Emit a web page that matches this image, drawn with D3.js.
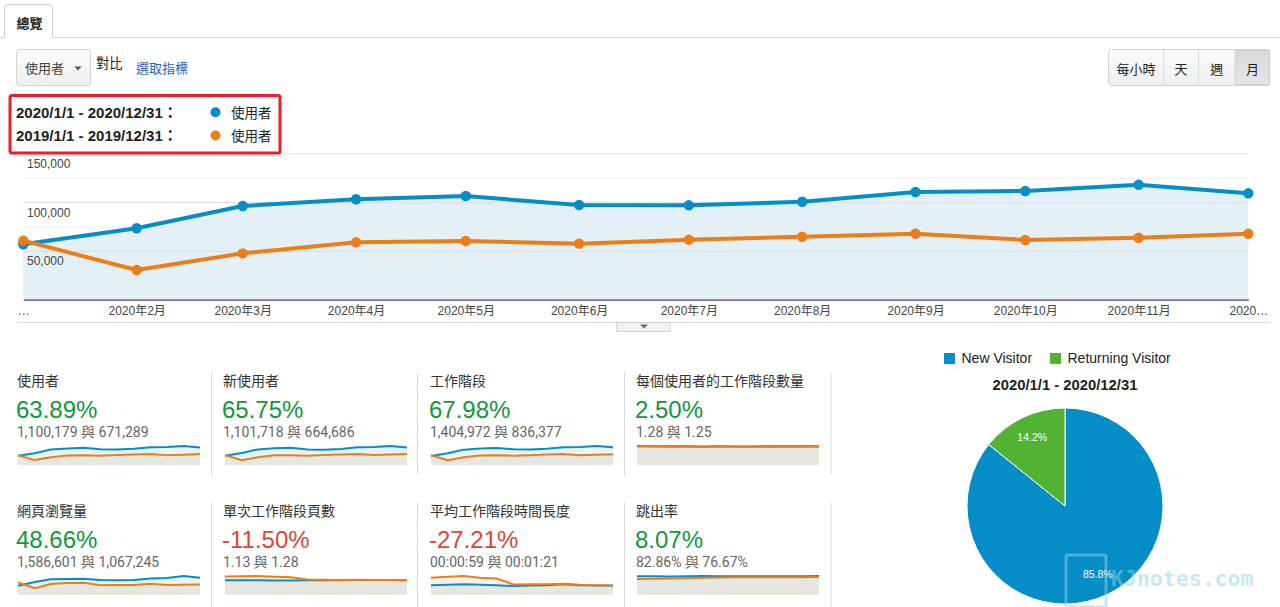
<!DOCTYPE html>
<html><head><meta charset="utf-8">
<script src="https://cdn.jsdelivr.net/npm/d3@7"></script>
<style>
html,body{margin:0;padding:0;background:#fff;}
svg{display:block;}
</style></head><body>
<svg id="c" width="1280" height="607"></svg>
<script>
// ---------- DATA ----------
const monthIndex = [0,1,2,3,4,5,6,7,8,9,10,11];
const xTickLabels = ["…","2020年2月","2020年3月","2020年4月","2020年5月","2020年6月","2020年7月","2020年8月","2020年9月","2020年10月","2020年11月","2020…"];
const yTickValues = [50000,100000,150000];
const gridValues = [25000,50000,75000,100000,125000,150000];
const legendRanges = ["2020/1/1 - 2020/12/31：","2019/1/1 - 2019/12/31："];
const legendMetric = "使用者";

const users2020 = [56800,73200,96000,102900,106200,97000,96700,100400,110300,111400,117800,109000];
const users2019 = [60500,30400,47500,58800,60100,57400,61500,64500,67600,61200,63500,67600];

const newUsers2020 = [53000,69000,90000,97000,100000,90000,89000,93000,103000,104000,110000,101000];
const newUsers2019 = [57000,28000,45000,56000,57000,54000,58000,61000,64000,58000,61000,64000];
const sessions2020 = [66000,87000,114000,123000,127000,116000,115000,120000,132000,133000,141000,131000];
const sessions2019 = [72000,36000,57000,70000,72000,69000,73000,77000,81000,73000,76000,80000];
const sessPerUser2020 = [1.30,1.29,1.28,1.28,1.27,1.28,1.27,1.27,1.28,1.28,1.28,1.29];
const sessPerUser2019 = [1.26,1.27,1.25,1.25,1.24,1.25,1.25,1.25,1.24,1.25,1.25,1.26];
const pageviews2020 = [79000,112000,135000,137000,140000,128000,126000,128000,141000,146000,163000,149000];
const pageviews2019 = [109000,58000,95000,103000,106000,84000,86000,86000,97000,86000,88000,90000];
const pagesPerSess2020 = [1.12,1.13,1.12,1.11,1.11,1.12,1.13,1.13,1.14,1.14,1.14,1.13];
const pagesPerSess2019 = [1.42,1.43,1.45,1.40,1.35,1.19,1.16,1.15,1.16,1.15,1.15,1.14];
const avgDur2020 = [58,61,64,61,58,53,56,58,64,58,56,56];
const avgDur2019 = [103,108,113,102,98,63,64,64,67,61,58,56];
const bounce2020 = [83.0,82.5,82.0,83.0,83.5,82.5,83.0,83.0,82.5,82.5,83.0,84.0];
const bounce2019 = [71.0,72.0,73.0,74.0,76.0,77.0,78.0,78.5,79.0,79.0,79.0,79.5];

const metricNames = ["使用者","新使用者","工作階段","每個使用者的工作階段數量","網頁瀏覽量","單次工作階段頁數","平均工作階段時間長度","跳出率"];
const metricChanges = ["63.89%","65.75%","67.98%","2.50%","48.66%","-11.50%","-27.21%","8.07%"];
const metricCompare = ["1,100,179 與 671,289","1,101,718 與 664,686","1,404,972 與 836,377","1.28 與 1.25","1,586,601 與 1,067,245","1.13 與 1.28","00:00:59 與 00:01:21","82.86% 與 76.67%"];
const metricPositive = [true,true,true,true,true,false,false,true];

const pieLabels = ["New Visitor","Returning Visitor"];
const pieValues = [85.8,14.2];
const pieTitle = "2020/1/1 - 2020/12/31";

const intervalButtons = ["每小時","天","週","月"];

// ---------- DRAW ----------
const BLUE = "#058dc7", ORANGE = "#ed7e17", GREEN = "#50b432";
const F_ARIAL = '"Liberation Sans", Arial, "Noto Sans CJK TC", sans-serif';
const F_ROBOTO = 'Roboto, "Noto Sans CJK TC", sans-serif';
const F_CJK = '"Noto Sans CJK TC", "Liberation Sans", sans-serif';

const svg = d3.select("#c");
const defs = svg.append("defs");
const gr = defs.append("linearGradient").attr("id","btnGrad").attr("x1",0).attr("y1",0).attr("x2",0).attr("y2",1);
gr.append("stop").attr("offset","0%").attr("stop-color","#fbfbfb");
gr.append("stop").attr("offset","100%").attr("stop-color","#efefef");
const gr2 = defs.append("linearGradient").attr("id","pressGrad").attr("x1",0).attr("y1",0).attr("x2",0).attr("y2",1);
gr2.append("stop").attr("offset","0%").attr("stop-color","#d9d9d9");
gr2.append("stop").attr("offset","100%").attr("stop-color","#e6e6e6");

// Tab
svg.append("line").attr("x1",0).attr("x2",1280).attr("y1",37.5).attr("y2",37.5).attr("stroke","#d6d6d6");
svg.append("path").attr("d","M4.5,38 V7.5 Q4.5,4.5 7.5,4.5 H49.5 Q52.5,4.5 52.5,7.5 V38")
  .attr("fill","#fff").attr("stroke","#cfcfcf");
svg.append("text").attr("x",16.5).attr("y",27.5).attr("font-family",F_CJK).attr("font-size",13)
  .attr("font-weight","bold").attr("fill","#222").text("總覽");

// Dropdown
svg.append("rect").attr("x",16.5).attr("y",49.5).attr("width",74).attr("height",36).attr("rx",2.5)
  .attr("fill","url(#btnGrad)").attr("stroke","#d3d3d3");
svg.append("text").attr("x",25).attr("y",73).attr("font-family",F_CJK).attr("font-size",13).attr("fill","#444").text("使用者");
svg.append("path").attr("d","M74.5,66.5 L81.5,66.5 L78,70.5 Z").attr("fill","#555");
svg.append("text").attr("x",96).attr("y",68).attr("font-family",F_CJK).attr("font-size",13.3).attr("fill","#222").text("對比");
svg.append("text").attr("x",136).attr("y",73).attr("font-family",F_CJK).attr("font-size",13).attr("fill","#2266bb").text("選取指標");

// Interval buttons
const btnEdges = [1108.5,1163.5,1198.5,1235,1270];
svg.append("rect").attr("x",1108.5).attr("y",49.5).attr("width",161.5).attr("height",36).attr("rx",3)
  .attr("fill","url(#btnGrad)").attr("stroke","#d3d3d3");
svg.append("rect").attr("x",1235).attr("y",50).attr("width",34.5).attr("height",35).attr("fill","url(#pressGrad)");
svg.append("rect").attr("x",1235.5).attr("y",50.5).attr("width",33.5).attr("height",34).attr("fill","none").attr("stroke","#cfcfcf").attr("stroke-width",1);
[1163.5,1198.5,1235].forEach(xx=>svg.append("line").attr("x1",xx).attr("x2",xx).attr("y1",50).attr("y2",85).attr("stroke","#dadada"));
intervalButtons.forEach((t,i)=>{
  svg.append("text").attr("x",(btnEdges[i]+btnEdges[i+1])/2).attr("y",73.5).attr("text-anchor","middle")
    .attr("font-family",F_CJK).attr("font-size",13).attr("fill","#222").text(t);
});

// ---------- Main chart ----------
const dates = monthIndex.map(m=>new Date(2020,m,1));
const x = d3.scaleTime().domain([dates[0],dates[11]]).range([23.3,1248.3]);
const y = d3.scaleLinear().domain([0,150000]).range([299.7,153.3]);
const plot = svg.append("g");

plot.append("path").datum(users2020)
  .attr("d", d3.area().x((d,i)=>x(dates[i])).y0(y(0)).y1(d=>y(d)))
  .attr("fill","#e4f0f7");

plot.append("g").attr("transform",`translate(${x.range()[0]},0)`)
  .call(d3.axisRight(y).tickValues(gridValues).tickSize(x.range()[1]-x.range()[0]).tickFormat(""))
  .call(g=>{
    g.select(".domain").remove();
    g.selectAll("line").attr("stroke",d=> d===150000 ? "#e6e6e6" : (d%50000===0 ? "#d8dde0" : "#e9eef0"));
  });

plot.append("g").attr("transform","translate(27,0)")
  .call(d3.axisRight(y).tickValues(yTickValues).tickSize(0).tickPadding(0).tickFormat(d3.format(",")))
  .call(g=>{
    g.select(".domain").remove();
    g.attr("font-family",F_ARIAL).attr("font-size",12);
    g.selectAll("text").attr("x",0).attr("dy","14px").attr("fill","#444");
  });

plot.append("g").attr("transform",`translate(0,${y(0)})`)
  .call(d3.axisBottom(x).tickValues(dates).tickFormat((d,i)=>xTickLabels[i]).tickSize(0).tickPadding(0).tickSizeOuter(0))
  .call(g=>{
    g.attr("font-family",F_ARIAL).attr("font-size",12);
    g.select(".domain").attr("stroke","#444").attr("stroke-width",1.3);
    g.selectAll("text").attr("y",15.7).attr("dy",0).attr("fill","#444");
  });

const lineGen = d3.line().x((d,i)=>x(dates[i])).y(d=>y(d));
[[users2020,BLUE],[users2019,ORANGE]].forEach(([data,col])=>{
  plot.append("path").datum(data).attr("d",lineGen).attr("fill","none").attr("stroke",col)
    .attr("stroke-width",4).attr("stroke-linejoin","round");
  plot.append("g").selectAll("circle").data(data).join("circle")
    .attr("cx",(d,i)=>x(dates[i])).attr("cy",d=>y(d)).attr("r",5.2).attr("fill",col);
});

// Legend box
svg.append("rect").attr("x",10).attr("y",95.5).attr("width",270).attr("height",57.5).attr("rx",2)
  .attr("fill","none").attr("stroke","#e8202a").attr("stroke-width",3);
[BLUE,ORANGE].forEach((col,i)=>{
  const yy = [112.3,135.5][i];
  svg.append("text").attr("x",16).attr("y",yy+5.3).attr("font-family",F_ARIAL).attr("font-size",15)
    .attr("font-weight","bold").attr("fill","#222").text(legendRanges[i]);
  svg.append("circle").attr("cx",215.5).attr("cy",yy).attr("r",5).attr("fill",col);
  svg.append("text").attr("x",231).attr("y",yy+5.2).attr("font-family",F_CJK).attr("font-size",13.5)
    .attr("fill","#222").text(legendMetric);
});

// bottom line and expand tab
svg.append("line").attr("x1",17).attr("x2",1270).attr("y1",322.5).attr("y2",322.5).attr("stroke","#dcdcdc");
svg.append("rect").attr("x",616.5).attr("y",322.5).attr("width",53.5).attr("height",9).attr("fill","#f1f1f1").attr("stroke","#d0d0d0");
svg.append("path").attr("d","M640,324.5 L648,324.5 L644,328.5 Z").attr("fill","#666");

// ---------- Metric cards ----------
const spark = [
  [users2020,users2019],[newUsers2020,newUsers2019],[sessions2020,sessions2019],[sessPerUser2020,sessPerUser2019],
  [pageviews2020,pageviews2019],[pagesPerSess2020,pagesPerSess2019],[avgDur2020,avgDur2019],[bounce2020,bounce2019]
];
const textX = [17,223,430,636];
const sparkX = [18,225,431,637];
const sepX = [211.5,417.5,624.5,831];
metricNames.forEach((name,k)=>{
  const col = k%4, row = Math.floor(k/4);
  const oy = row*130;
  const g = svg.append("g");
  g.append("text").attr("x",textX[col]).attr("y",386+oy).attr("font-family",F_ROBOTO).attr("font-size",14)
    .attr("fill","#333").text(name);
  g.append("text").attr("x",textX[col]-1).attr("y",418+oy).attr("font-family",F_ARIAL).attr("font-size",24)
    .attr("fill",metricPositive[k] ? "#14963c" : "#de4437").text(metricChanges[k]);
  g.append("text").attr("x",textX[col]).attr("y",437+oy).attr("font-family",F_ROBOTO).attr("font-size",14)
    .attr("fill","#666").text(metricCompare[k]);
  const [a,b] = spark[k];
  const sx = d3.scaleTime().domain([dates[0],dates[11]]).range([sparkX[col],sparkX[col]+182]);
  const sy = d3.scaleLinear().domain([0,d3.max(a.concat(b))]).range([465+oy,446+oy]);
  const ar = d3.area().x((d,i)=>sx(dates[i])).y0(sy(0)).y1(d=>sy(d));
  const ln = d3.line().x((d,i)=>sx(dates[i])).y(d=>sy(d));
  g.append("path").datum(a).attr("d",ar).attr("fill",BLUE).attr("fill-opacity",0.1);
  g.append("path").datum(b).attr("d",ar).attr("fill",ORANGE).attr("fill-opacity",0.1);
  g.append("path").datum(a).attr("d",ln).attr("fill","none").attr("stroke",BLUE).attr("stroke-width",2);
  g.append("path").datum(b).attr("d",ln).attr("fill","none").attr("stroke",ORANGE).attr("stroke-width",2);
});
[0,1].forEach(row=>{
  sepX.forEach(xx=>svg.append("line").attr("x1",xx).attr("x2",xx).attr("y1",[372.5,502.5][row]).attr("y2",[475,607][row])
    .attr("stroke","#d9d9d9"));
});

// ---------- Pie ----------
const pieColors = [BLUE,GREEN];
const legX = [944,1050];
pieLabels.forEach((t,i)=>{
  svg.append("rect").attr("x",legX[i]).attr("y",353).attr("width",11).attr("height",11).attr("fill",pieColors[i]);
  svg.append("text").attr("x",legX[i]+17.5).attr("y",363.3).attr("font-family",F_ARIAL).attr("font-size",14)
    .attr("fill","#222").text(t);
});
svg.append("text").attr("x",1065).attr("y",389.5).attr("text-anchor","middle").attr("font-family",F_ARIAL)
  .attr("font-size",14.8).attr("font-weight","bold").attr("fill","#222").text(pieTitle);

const pc = svg.append("g").attr("transform","translate(1065,506)");
const arcs = d3.pie().sort(null)(pieValues);
const arcGen = d3.arc().innerRadius(0).outerRadius(98);
const labArc = d3.arc().innerRadius(76).outerRadius(76);
pc.selectAll("path").data(arcs).join("path").attr("d",arcGen).attr("fill",(d,i)=>pieColors[i])
  .attr("stroke","#fff").attr("stroke-width",1);
pc.selectAll("text").data(arcs).join("text")
  .attr("transform",d=>`translate(${labArc.centroid(d)})`).attr("text-anchor","middle").attr("dy","0.35em")
  .attr("font-family",F_ARIAL).attr("font-size",10.5).attr("fill","#fff").text(d=>d.data.toFixed(1)+"%");

// watermark
const wm = svg.append("g").attr("opacity",0.5);
wm.append("rect").attr("x",1066).attr("y",555).attr("width",40).attr("height",52).attr("rx",2)
  .attr("fill","none").attr("stroke","#8fd3e6").attr("stroke-width",3);
wm.append("text").attr("x",1111).attr("y",586).attr("font-family",'"DejaVu Sans Mono", monospace')
  .attr("font-size",21.5).attr("font-weight","bold").attr("fill","#8fd3e6").text("KJnotes.com");
</script>
</body></html>
